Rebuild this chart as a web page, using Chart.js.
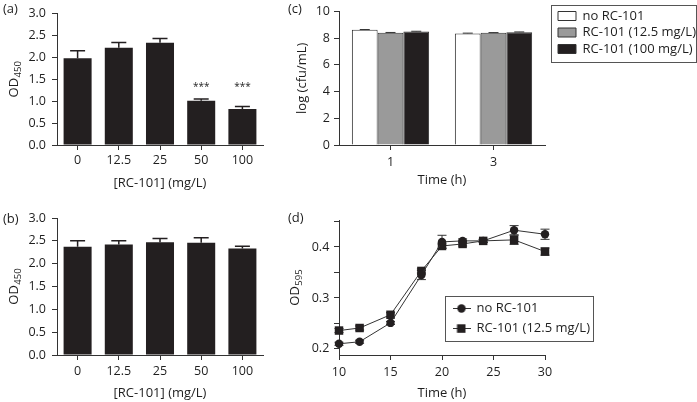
<!DOCTYPE html>
<html>
<head>
<meta charset="utf-8">
<script src="https://cdn.jsdelivr.net/npm/chart.js@4.4.0/dist/chart.umd.min.js"></script>
<style>
  html, body { margin: 0; padding: 0; background: #ffffff; }
  #wrap { position: relative; width: 697px; height: 402px; overflow: hidden; background: #ffffff; }
  canvas { position: absolute; }
  .plabel { position: absolute; font-family: 'Open Sans', 'Noto Sans', sans-serif; font-size: 13px; line-height: 16px; color: #1e1e1e; }
</style>
</head>
<body>
<div id="wrap">
  <canvas id="ca" width="270" height="200" style="left:0px;top:0px;"></canvas>
  <canvas id="cb" width="270" height="202" style="left:0px;top:200px;"></canvas>
  <canvas id="cc" width="427" height="200" style="left:270px;top:0px;"></canvas>
  <canvas id="cd" width="427" height="202" style="left:270px;top:200px;"></canvas>
  <div class="plabel" style="left:3px;top:0px;">(a)</div>
  <div class="plabel" style="left:3px;top:210px;">(b)</div>
  <div class="plabel" style="left:288px;top:0px;">(c)</div>
  <div class="plabel" style="left:288px;top:209px;">(d)</div>
</div>
<script>
// ---------------- data ----------------
const concLabels = ['0', '12.5', '25', '50', '100'];
// panel (a)
const odA = [1.98, 2.22, 2.33, 1.01, 0.82];
const odAErr = [0.17, 0.12, 0.10, 0.04, 0.06];
const sigA = ['', '', '', '***', '***'];
// panel (b)
const odB = [2.37, 2.42, 2.47, 2.46, 2.33];
const odBErr = [0.13, 0.08, 0.08, 0.11, 0.05];
// panel (c)
const timeLabelsC = ['1', '3'];
const cfuNone = [8.63, 8.36];
const cfu125 = [8.41, 8.40];
const cfu100 = [8.50, 8.45];
const cfuNoneErr = [0.02, 0.02];
const cfu125Err = [0.02, 0.02];
const cfu100Err = [0.02, 0.02];
const seriesNamesC = ['no RC-101', 'RC-101 (12.5 mg/L)', 'RC-101 (100 mg/L)'];
// panel (d)
const timeD = [10, 12, 15, 18, 20, 22, 24, 27, 30];
const odNone = [0.210, 0.214, 0.251, 0.345, 0.410, 0.412, 0.412, 0.433, 0.425];
const odNoneErr = [0.003, 0.003, 0.003, 0.009, 0.013, 0.004, 0.003, 0.009, 0.010];
const od125 = [0.236, 0.241, 0.267, 0.353, 0.402, 0.406, 0.412, 0.414, 0.391];
const od125Err = [0.004, 0.004, 0.004, 0.004, 0.004, 0.004, 0.003, 0.009, 0.007];
const seriesNamesD = ['no RC-101', 'RC-101 (12.5 mg/L)'];
const yTicksD = [0.2, 0.25, 0.3, 0.35, 0.4, 0.45];

// ---------------- style ----------------
const FONT = "'Open Sans', 'Noto Sans', 'DejaVu Sans', sans-serif";
const AX = '#333333';
const TXT = '#1e1e1e';
const BLACK = '#231f20';
const GREY = '#9a9a9a';
Chart.defaults.font.family = FONT;
Chart.defaults.font.size = 12.5;
Chart.defaults.color = TXT;

function axis(extra) {
  const base = {
    grid: { display: true, drawOnChartArea: false, drawTicks: true, tickLength: 5, color: AX, lineWidth: 1 },
    border: { display: true, color: AX, width: 1 },
    ticks: { color: TXT, font: { size: 12.5 } },
    title: { display: true, color: TXT, font: { size: 13 } }
  };
  for (const k in extra) {
    if (typeof extra[k] === 'object' && !Array.isArray(extra[k]) && base[k]) base[k] = Object.assign({}, base[k], extra[k]);
    else base[k] = extra[k];
  }
  return base;
}

function errorBars(errs, cap, both, color, lw, before) {
  const draw = (chart) => {
    const ctx = chart.ctx, ys = chart.scales.y;
    ctx.save();
    ctx.strokeStyle = color; ctx.lineWidth = lw;
    errs.forEach((arr, di) => {
      const meta = chart.getDatasetMeta(di);
      const vals = chart.data.datasets[di].data;
      meta.data.forEach((el, j) => {
        const e = arr[j];
        if (!e) return;
        const v = (typeof vals[j] === 'object') ? vals[j].y : vals[j];
        const x = el.x;
        const yt = ys.getPixelForValue(v + e);
        const yb = both ? ys.getPixelForValue(v - e) : ys.getPixelForValue(v);
        ctx.beginPath();
        ctx.moveTo(x, yb); ctx.lineTo(x, yt);
        ctx.moveTo(x - cap / 2, yt); ctx.lineTo(x + cap / 2, yt);
        if (both) { ctx.moveTo(x - cap / 2, yb); ctx.lineTo(x + cap / 2, yb); }
        ctx.stroke();
      });
    });
    ctx.restore();
  };
  return before ? { id: 'errorBars', beforeDatasetsDraw: draw } : { id: 'errorBars', afterDatasetsDraw: draw };
}

// y-axis title with a real subscript (e.g. OD + 450), drawn rotated beside the axis
function subTitle(baseX, main, sub) {
  return {
    id: 'subTitle',
    afterDraw(chart) {
      const ctx = chart.ctx, ca = chart.chartArea;
      const cy = (ca.top + ca.bottom) / 2;
      ctx.save();
      ctx.fillStyle = TXT;
      ctx.textBaseline = 'alphabetic';
      ctx.textAlign = 'left';
      ctx.font = '13px ' + FONT;
      const wMain = ctx.measureText(main).width;
      ctx.font = '9.5px ' + FONT;
      const wSub = ctx.measureText(sub).width;
      const total = wMain + wSub + 0.5;
      ctx.translate(baseX, cy);
      ctx.rotate(-Math.PI / 2);
      ctx.font = '13px ' + FONT;
      ctx.fillText(main, -total / 2, 0);
      ctx.font = '9.5px ' + FONT;
      ctx.fillText(sub, -total / 2 + wMain + 0.5, 3);
      ctx.restore();
    }
  };
}

const SIG_LEVEL = 1.26;
const sigPlugin = {
  id: 'sig',
  afterDatasetsDraw(chart) {
    const ctx = chart.ctx, meta = chart.getDatasetMeta(0);
    const y = chart.scales.y.getPixelForValue(SIG_LEVEL);
    ctx.save();
    ctx.font = '10px ' + FONT; ctx.fillStyle = TXT;
    ctx.textAlign = 'center'; ctx.textBaseline = 'alphabetic';
    sigA.forEach((s, j) => { if (s) ctx.fillText(s, meta.data[j].x, y); });
    ctx.restore();
  }
};

function legendPlace(left, top, box) {
  return {
    id: 'legendPlace',
    beforeDraw(chart) {
      const lg = chart.legend;
      const w = lg.width, h = lg.height;
      lg.left = left; lg.top = top; lg.right = left + w; lg.bottom = top + h;
    },
    afterDraw(chart) {
      const ctx = chart.ctx;
      ctx.save();
      ctx.strokeStyle = '#555'; ctx.lineWidth = 1;
      ctx.strokeRect(box[0] + 0.5, box[1] + 0.5, box[2], box[3]);
      ctx.restore();
    }
  };
}

function barPanel(id, values, errs, padTop, xHeight, tickPad, titlePadBottom, extraPlugins) {
  return new Chart(document.getElementById(id), {
    type: 'bar',
    data: {
      labels: concLabels,
      datasets: [{ data: values, backgroundColor: BLACK, borderWidth: 0, barPercentage: 0.68, categoryPercentage: 1.0 }]
    },
    options: {
      responsive: false, animation: false, devicePixelRatio: 1,
      layout: { padding: { left: 0, top: padTop, right: 7, bottom: 0 } },
      plugins: { legend: { display: false }, tooltip: { enabled: false } },
      scales: {
        x: axis({
          grid: { offset: false },
          ticks: { padding: tickPad },
          title: { text: '[RC-101] (mg/L)', padding: { top: 0, bottom: titlePadBottom } },
          afterFit: (s) => { s.height = xHeight; }
        }),
        y: axis({
          min: 0, max: 3,
          ticks: { stepSize: 0.5, padding: 6, callback: (v) => Number(v).toFixed(1) },
          title: { display: false },
          afterFit: (s) => { s.width = 57; }
        })
      }
    },
    plugins: [errorBars([errs], 15, false, BLACK, 1.5, false), subTitle(17.5, 'OD', '450')].concat(extraPlugins || [])
  });
}

// (a)
barPanel('ca', odA, odAErr, 8, 55, 2.5, 9.2, [sigPlugin]);
// (b)
barPanel('cb', odB, odBErr, 18, 47, 4.2, 1.2, []);

// (c)
new Chart(document.getElementById('cc'), {
  type: 'bar',
  data: {
    labels: timeLabelsC,
    datasets: [
      { label: seriesNamesC[0], data: cfuNone, backgroundColor: '#ffffff', borderColor: AX, borderWidth: 1, borderSkipped: 'bottom' },
      { label: seriesNamesC[1], data: cfu125, backgroundColor: GREY, borderColor: AX, borderWidth: 1, borderSkipped: 'bottom' },
      { label: seriesNamesC[2], data: cfu100, backgroundColor: BLACK, borderColor: AX, borderWidth: 1, borderSkipped: 'bottom' }
    ]
  },
  options: {
    responsive: false, animation: false, devicePixelRatio: 1,
    datasets: { bar: { barPercentage: 1.0, categoryPercentage: 0.75 } },
    layout: { padding: { left: 0, top: 7.5, right: 152, bottom: 0 } },
    plugins: {
      tooltip: { enabled: false },
      legend: {
        display: true, position: 'chartArea', align: 'start',
        labels: { boxWidth: 18, boxHeight: 9, padding: 3.5, color: TXT, font: { size: 13 } }
      }
    },
    scales: {
      x: axis({
        grid: { offset: false },
        ticks: { padding: 4.5 },
        title: { text: 'Time (h)', padding: { top: 0, bottom: 12.2 } },
        afterFit: (s) => { s.height = 55; }
      }),
      y: axis({
        min: 0, max: 10,
        ticks: { stepSize: 2, padding: 4 },
        title: { text: 'log (cfu/mL)', padding: { top: 24.2, bottom: 0 } },
        afterFit: (s) => { s.width = 69; }
      })
    }
  },
  plugins: [errorBars([cfuNoneErr, cfu125Err, cfu100Err], 10, false, AX, 1, false), legendPlace(284.5, 6, [281, 5, 145, 57])]
});

// (d)
function makeSym(shape) {
  const c = document.createElement('canvas');
  c.width = 18; c.height = 12;
  const g = c.getContext('2d');
  g.strokeStyle = AX; g.lineWidth = 1;
  g.beginPath(); g.moveTo(0, 6.5); g.lineTo(18, 6.5); g.stroke();
  g.fillStyle = BLACK;
  if (shape === 'circle') { g.beginPath(); g.arc(9, 6.5, 4.2, 0, Math.PI * 2); g.fill(); }
  else { g.fillRect(4.5, 2.3, 8.5, 8.5); }
  return c;
}
const symsD = [makeSym('circle'), makeSym('rect')];

new Chart(document.getElementById('cd'), {
  type: 'line',
  data: {
    datasets: [
      { label: seriesNamesD[0], data: timeD.map((t, i) => ({ x: t, y: odNone[i] })),
        borderColor: AX, borderWidth: 1, pointStyle: 'circle', pointRadius: 4.2, pointBackgroundColor: BLACK, pointBorderColor: BLACK, pointBorderWidth: 0, clip: false },
      { label: seriesNamesD[1], data: timeD.map((t, i) => ({ x: t, y: od125[i] })),
        borderColor: AX, borderWidth: 1, pointStyle: 'rect', pointRadius: 6, pointBackgroundColor: BLACK, pointBorderColor: BLACK, pointBorderWidth: 0, clip: false }
    ]
  },
  options: {
    responsive: false, animation: false, devicePixelRatio: 1,
    layout: { padding: { left: 0, top: 20, right: 152, bottom: 0 } },
    plugins: {
      tooltip: { enabled: false },
      legend: {
        display: true, position: 'chartArea', align: 'start',
        labels: {
          usePointStyle: true, pointStyleWidth: 17, padding: 7, color: TXT, font: { size: 13 },
          generateLabels(chart) {
            const items = Chart.defaults.plugins.legend.labels.generateLabels(chart);
            items.forEach((it, i) => { it.pointStyle = symsD[i]; });
            return items;
          }
        }
      }
    },
    scales: {
      x: axis({
        type: 'linear', min: 10, max: 30,
        ticks: { stepSize: 5, padding: 4.5 },
        title: { text: 'Time (h)', padding: { top: 0, bottom: 1.2 } },
        afterFit: (s) => { s.height = 47; }
      }),
      y: axis({
        type: 'linear', min: 0.188, max: 0.453,
        afterBuildTicks: (s) => { s.ticks = yTicksD.map(v => ({ value: v })); },
        ticks: { padding: 4.7, callback: (v) => (Math.abs(v * 10 - Math.round(v * 10)) < 1e-6 ? Number(v).toFixed(1) : '') },
        title: { display: false },
        afterFit: (s) => { s.width = 69; }
      })
    }
  },
  plugins: [errorBars([odNoneErr, od125Err], 9, true, AX, 1, true), legendPlace(176, 94.5, [175, 96, 148, 45]), subTitle(28.5, 'OD', '595')]
});
</script>
</body>
</html>
